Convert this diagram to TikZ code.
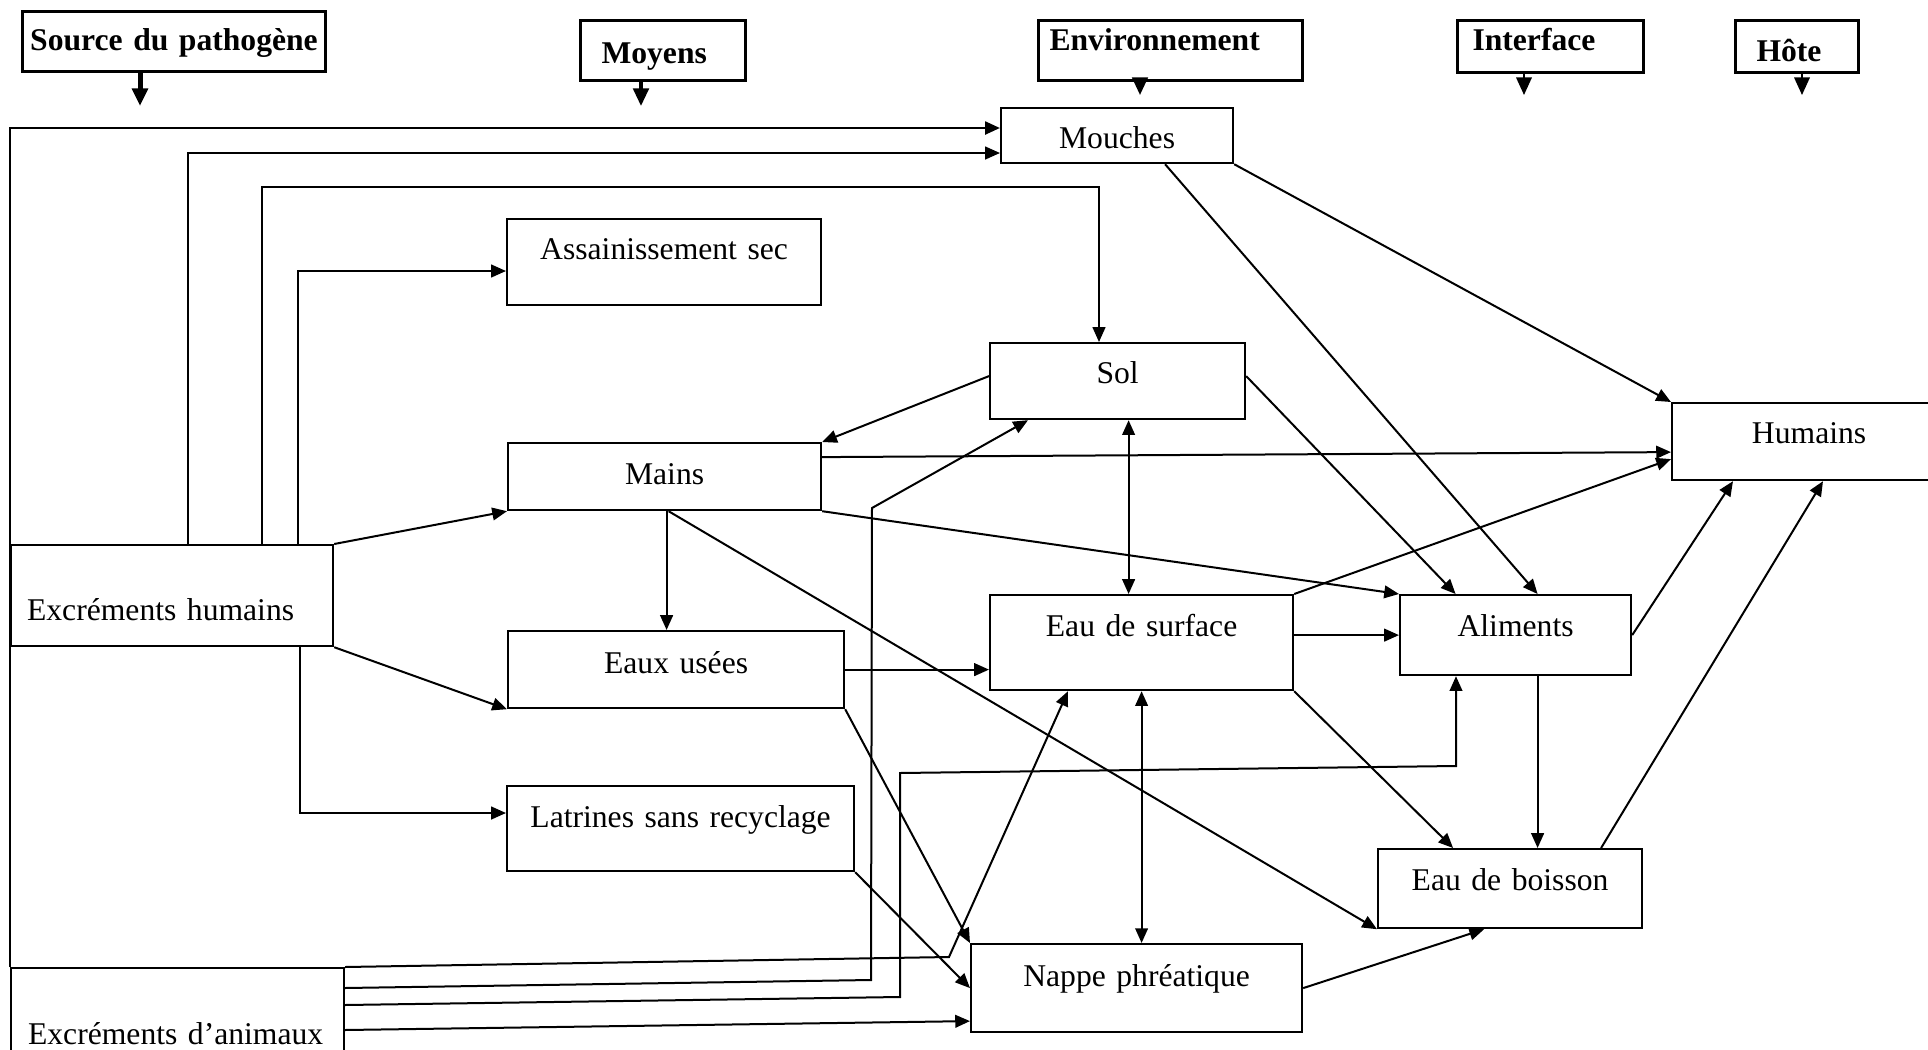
\documentclass[tikz,border=0pt]{standalone}
\usepackage{fontspec}
\setmainfont{Liberation Serif}
\usetikzlibrary{positioning,
                calc,
                arrows.meta}

\begin{document}
\begin{tikzpicture}[x=0.1mm,y=-0.1mm]  % <-- one unit = one pixel of the sketch

\tikzset{
headbox/.style={
draw=black,
line width=0.3mm,
anchor=north west,
inner sep=0pt,
font=\fontsize{9}{11}\selectfont\bfseries
},
unitbox/.style={
draw=black,
line width=0.22mm,
anchor=north west,
inner sep=0pt,
align=center,
font=\fontsize{9}{11}\selectfont
},
arr/.style={
line width=0.2mm,
-{Triangle[length=4.2pt,width=3.6pt]}
},
darr/.style={
line width=0.2mm,
{Triangle[length=4.2pt,width=3.6pt]}-{Triangle[length=4.2pt,width=3.6pt]}
},
headarr/.style={
-{Triangle[length=5pt,width=4.4pt]}
}
}

\useasboundingbox (0,0) rectangle (1928,1049);

%----------------------------------
% HEADERS
%----------------------------------

\node[headbox,align=center,text width=30.3mm,text height=3.9mm,text depth=2.1mm] (src) at (21,10) {Source du pathogène};
\node[headbox,align=left,inner xsep=2.1mm,text width=12.3mm,text height=4.3mm,text depth=1.7mm] (moy) at (579,19) {Moyens};
\node[headbox,align=left,inner xsep=1.1mm,text width=24.2mm,text height=3.0mm,text depth=3.0mm] (env) at (1037,19) {Environnement};
\node[headbox,align=left,inner xsep=1.5mm,text width=15.6mm,text height=3.0mm,text depth=2.2mm] (intf) at (1456,19) {Interface};
\node[headbox,align=left,inner xsep=2.1mm,text width=8.1mm,text height=4.1mm,text depth=1.1mm] (hote) at (1734,19) {Hôte};

\coordinate (srcend) at (140,106);
\coordinate (moyend) at (641,106);
\coordinate (envend) at (1140,95);
\coordinate (intfend) at (1524,95);
\coordinate (hoteend) at (1802,95);

\draw[headarr,line width=0.5mm] (srcend |- src.south) -- (srcend);
\draw[headarr,line width=0.35mm] (moyend |- moy.south) -- (moyend);
\draw[headarr,line width=0.3mm] (envend |- env.south) -- (envend);
\draw[headarr,line width=0.2mm] (intfend |- intf.south) -- (intfend);
\draw[headarr,line width=0.2mm] (hoteend |- hote.south) -- (hoteend);

%----------------------------------
% SOURCES
%----------------------------------

\node[unitbox,align=left,inner xsep=1.6mm,text width=29.0mm,text height=7.5mm,text depth=2.6mm] (exh) at (10,544) {Excréments humains};
\node[unitbox,align=left,inner xsep=1.7mm,text width=29.9mm,text height=7.6mm,text depth=2.7mm] (exa) at (10,967) {Excréments d’animaux};

%----------------------------------
% MEANS
%----------------------------------

\node[unitbox,text width=31.4mm,text height=4.0mm,text depth=4.6mm] (assain) at (506,218) {Assainissement sec};
\node[unitbox,text width=31.3mm,text height=4.1mm,text depth=2.6mm] (mains) at (507,442) {Mains};
\node[unitbox,text width=33.6mm,text height=4.2mm,text depth=3.5mm] (eaux) at (507,630) {Eaux usées};
\node[unitbox,text width=34.7mm,text height=4.1mm,text depth=4.4mm] (latr) at (506,785) {Latrines sans recyclage};

%----------------------------------
% ENVIRONMENT
%----------------------------------

\node[unitbox,text width=23.2mm,text height=4.0mm,text depth=1.5mm] (mouch) at (1000,107) {Mouches};
\node[unitbox,text width=25.5mm,text height=4.0mm,text depth=3.6mm] (sol) at (989,342) {Sol};
\node[unitbox,text width=30.3mm,text height=4.1mm,text depth=5.4mm] (eds) at (989,594) {Eau de surface};
\node[unitbox,text width=33.1mm,text height=4.2mm,text depth=4.6mm] (nappe) at (970,943) {Nappe phréatique};

%----------------------------------
% INTERFACE AND HOST
%----------------------------------

\node[unitbox,text width=23.1mm,text height=4.1mm,text depth=3.9mm] (alim) at (1399,594) {Aliments};
\node[unitbox,text width=26.4mm,text height=4.1mm,text depth=3.8mm] (eaub) at (1377,848) {Eau de boisson};
\node[unitbox,text width=27.4mm,text height=4.0mm,text depth=3.7mm] (hum) at (1671,402) {Humains};

%----------------------------------
% BEND POINTS
%----------------------------------

\coordinate (k0) at (10,128);
\coordinate (k1) at (188,153);
\coordinate (k2) at (262,187);
\coordinate (k2b) at (1099,187);
\coordinate (k3) at (298,271);
\coordinate (k4) at (300,813);
\coordinate (a0) at (949,957);
\coordinate (a1) at (871,980);
\coordinate (a1b) at (872,508);
\coordinate (a2) at (900,997);
\coordinate (a2b) at (900,773);
\coordinate (a2c) at (1456,766);

%----------------------------------
% FROM HUMAN EXCRETA
%----------------------------------

\draw[arr] (k1 |- exh.north) -- (k1) -- (k1 -| mouch.west);
\draw[arr] (k2 |- exh.north) -- (k2) -- (k2b) -- (k2b |- sol.north);
\draw[arr] (k3 |- exh.north) -- (k3) -- (k3 -| assain.west);
\draw[arr] (k4 |- exh.south) -- (k4) -- (k4 -| latr.west);
\draw[arr] (exh.north east) -- (mains.south west);
\draw[arr] (exh.south east) -- (eaux.south west);

%----------------------------------
% FROM ANIMAL EXCRETA
%----------------------------------

\draw[arr,line width=0.28mm] (exa.north west) -- (k0) -- (k0 -| mouch.west);
\draw[arr] (exa.north east) -- (a0) -- ([xshift=7.9mm]eds.south west);
\draw[arr] ([yshift=-2.1mm]exa.north east) -- (a1) -- (a1b) -- ([xshift=3.9mm]sol.south west);
\draw[arr] ([yshift=-3.8mm]exa.north east) -- (a2) -- (a2b) -- (a2c) -- (a2c |- alim.south);
\draw[arr] ([yshift=-6.3mm]exa.north east) -- ([yshift=-3.3mm]nappe.west);

%----------------------------------
% MEANS AND ENVIRONMENT
%----------------------------------

\draw[arr] ([xshift=0.2mm]mains.south) -- ([xshift=0.2mm]mains.south |- eaux.north);
\draw[arr] ([xshift=0.4mm]mains.south) -- (eaub.south west);
\draw[arr] ([yshift=1.95mm]mains.east) -- ([yshift=-1.05mm]hum.west);
\draw[arr] (mains.south east) -- (alim.north west);
\draw[arr] ([yshift=0.5mm]sol.west) -- (mains.north east);
\draw[darr] ([xshift=1.1mm]sol.south) -- ([xshift=1.1mm]sol.south |- eds.north);
\draw[arr] ([yshift=0.5mm]sol.east) -- ([xshift=-6mm]alim.north);
\draw[arr] ([xshift=4.8mm]mouch.south) -- ([xshift=2.2mm]alim.north);
\draw[arr] (mouch.south east) -- (hum.north west);
\draw[arr] (eds.north east) -- ([yshift=-1.75mm]hum.west);
\draw[arr] (eds.east |- alim.west) -- (alim.west);
\draw[arr] (eaux.east) -- (eaux.east -| eds.west);
\draw[darr] (eds.south) -- (eds.south |- nappe.north);
\draw[arr] (eds.south east) -- ([xshift=-5.7mm]eaub.north);
\draw[arr] (eaux.south east) -- (nappe.north west);
\draw[arr] (latr.south east) -- (nappe.west);
\draw[arr] (nappe.east) -- ([xshift=-2.6mm]eaub.south);

%----------------------------------
% TO THE HOST
%----------------------------------

\draw[arr] ([xshift=2.2mm]alim.south) -- ([xshift=2.2mm]alim.south |- eaub.north);
\draw[arr] (alim.east) -- ([xshift=6.2mm]hum.south west);
\draw[arr] ([xshift=9.1mm]eaub.north) -- ([xshift=15.2mm]hum.south west);

\end{tikzpicture}
\end{document}
